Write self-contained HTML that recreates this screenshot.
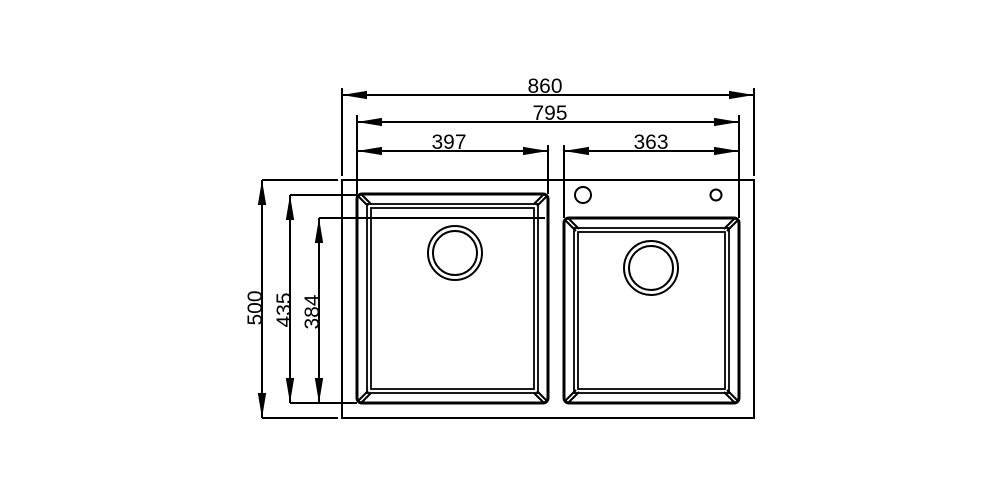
<!DOCTYPE html>
<html><head><style>body{margin:0;background:#fff}svg{display:block}</style></head><body>
<svg width="1000" height="500" viewBox="0 0 1000 500" xmlns="http://www.w3.org/2000/svg">
<defs>
<marker id="a" viewBox="0 0 24 8" refX="24" refY="4" markerWidth="25" markerHeight="9" markerUnits="userSpaceOnUse" orient="auto-start-reverse"><path d="M0,0 L24,4 L0,8Z" fill="#000"/></marker>
</defs>
<g stroke="#000" fill="none" stroke-width="2">
<line x1="342" y1="95" x2="754" y2="95" marker-start="url(#a)" marker-end="url(#a)"/>
<line x1="357" y1="122" x2="739" y2="122" marker-start="url(#a)" marker-end="url(#a)"/>
<line x1="357" y1="151" x2="548" y2="151" marker-start="url(#a)" marker-end="url(#a)"/>
<line x1="564" y1="151" x2="739" y2="151" marker-start="url(#a)" marker-end="url(#a)"/>
<line x1="342" y1="88" x2="342" y2="176"/>
<line x1="754" y1="88" x2="754" y2="176"/>
<line x1="357" y1="115" x2="357" y2="194"/>
<line x1="739" y1="115" x2="739" y2="218"/>
<line x1="548" y1="145" x2="548" y2="194"/>
<line x1="564" y1="145" x2="564" y2="218"/>
<line x1="262" y1="180" x2="262" y2="418" marker-start="url(#a)" marker-end="url(#a)"/>
<line x1="290" y1="195" x2="290" y2="403" marker-start="url(#a)" marker-end="url(#a)"/>
<line x1="319" y1="218" x2="319" y2="403" marker-start="url(#a)" marker-end="url(#a)"/>
<line x1="262" y1="180" x2="338" y2="180"/>
<line x1="262" y1="418" x2="338" y2="418"/>
<line x1="290" y1="195" x2="357" y2="195"/>
<line x1="319" y1="218" x2="545" y2="218"/>
<line x1="290" y1="403" x2="357" y2="403"/>
<rect x="342" y="180" width="412" height="238"/>
<rect x="357" y="194" width="191" height="209" rx="5" stroke-width="3"/>
<rect x="367" y="204" width="171" height="189" stroke-width="1.8"/>
<rect x="371" y="208" width="163" height="181" stroke-width="1.8"/>
<line x1="358" y1="196" x2="368" y2="206"/><line x1="361" y1="194" x2="371" y2="204"/>
<line x1="547" y1="196" x2="537" y2="206"/><line x1="544" y1="194" x2="534" y2="204"/>
<line x1="358" y1="401" x2="368" y2="391"/><line x1="361" y1="403" x2="371" y2="393"/>
<line x1="547" y1="401" x2="537" y2="391"/><line x1="544" y1="403" x2="534" y2="393"/>
<circle cx="455" cy="253" r="27"/><circle cx="455" cy="253" r="22"/>
<rect x="564" y="218" width="175" height="185" rx="5" stroke-width="3"/>
<rect x="574" y="228" width="155" height="165" stroke-width="1.8"/>
<rect x="578" y="232" width="147" height="157" stroke-width="1.8"/>
<line x1="565" y1="220" x2="576" y2="231"/><line x1="568" y1="218" x2="579" y2="229"/>
<line x1="738" y1="220" x2="727" y2="231"/><line x1="735" y1="218" x2="724" y2="229"/>
<line x1="565" y1="401" x2="576" y2="390"/><line x1="568" y1="403" x2="579" y2="392"/>
<line x1="738" y1="401" x2="727" y2="390"/><line x1="735" y1="403" x2="724" y2="392"/>
<circle cx="651" cy="268" r="27"/><circle cx="651" cy="268" r="22"/>
<circle cx="583" cy="195" r="8"/><circle cx="716" cy="195" r="5.5"/>
</g>
<g font-family="Liberation Sans, sans-serif" font-size="21" fill="#000" text-anchor="middle">
<text x="545" y="93">860</text>
<text x="550" y="120">795</text>
<text x="449" y="149">397</text>
<text x="651" y="149">363</text>
<text transform="translate(262,308) rotate(-90)">500</text>
<text transform="translate(291,310) rotate(-90)">435</text>
<text transform="translate(319,312) rotate(-90)">384</text>
</g>
</svg>
</body></html>
